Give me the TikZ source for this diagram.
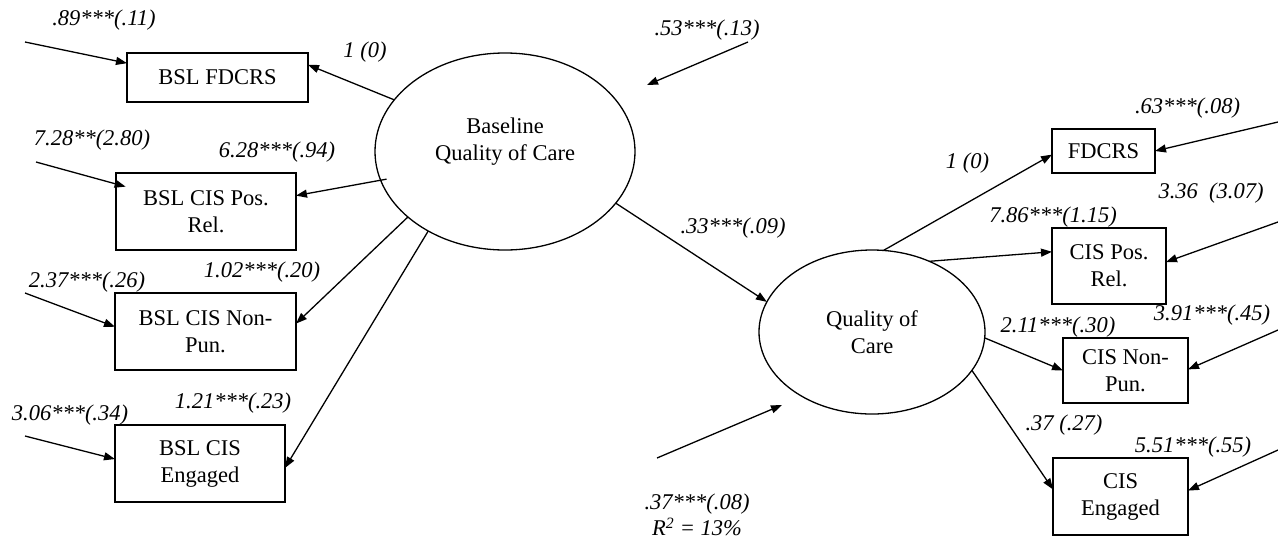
\documentclass[tikz,border=0pt]{standalone}
\usepackage{fontspec}
\setmainfont{Liberation Serif}
\usetikzlibrary{shapes.geometric,arrows.meta,calc}

\begin{document}
\begin{tikzpicture}[x=1pt,y=-1pt,
  every node/.style={font=\fontsize{22.5}{27}\selectfont},
  obs/.style={draw, rectangle, inner sep=0pt, outer sep=0pt, align=center, line width=1.3pt},
  latent/.style={draw, ellipse, inner sep=0pt, outer sep=0pt, align=center, line width=1.3pt},
  pth/.style={line width=1.3pt, -{Triangle[length=11pt,width=8pt]}},
  est/.style={font=\fontsize{22.5}{26}\selectfont\itshape, inner sep=0pt, align=center}
]
\useasboundingbox (0,0) rectangle (1278,539);

% latent variables
\node[latent, minimum width=260pt, minimum height=197pt] (base) at (505,151.5) {};
\node[align=center] (basetxt) at (505,142) {Baseline\\Quality of Care};
\node[latent, minimum width=226pt, minimum height=164pt] (qoc) at (872,332) {Quality of\\Care};

% baseline indicators
\node[obs, minimum width=181pt, minimum height=49pt] (bfd)  at (217.5,77.5) {BSL FDCRS};
\node[obs, minimum width=180pt, minimum height=77pt] (bpos) at (206,211.5) {BSL CIS Pos.\\Rel.};
\node[obs, minimum width=181pt, minimum height=77pt] (bnon) at (205.5,331.5) {BSL CIS Non-\\Pun.};
\node[obs, minimum width=170pt, minimum height=77pt] (beng) at (200,463.5) {BSL CIS\\Engaged};

% follow-up indicators
\node[obs, minimum width=103pt, minimum height=44pt] (fd)  at (1103.5,151) {FDCRS};
\node[obs, minimum width=114pt, minimum height=76pt] (pos) at (1109,266) {CIS Pos.\\Rel.};
\node[obs, minimum width=125pt, minimum height=65pt] (non) at (1125.5,370.5) {CIS Non-\\Pun.};
\node[obs, minimum width=135pt, minimum height=77pt] (eng) at (1120.5,496.5) {CIS\\Engaged};

% free ends of the residual arrows
\coordinate (e1) at (25,42);
\coordinate (e2) at (36,162);
\coordinate (e3) at (25,293);
\coordinate (e4) at (25,436);
\coordinate (zb) at (748,42);
\coordinate (zbt) at (647,85);
\coordinate (zq) at (657,458);
\coordinate (zqt) at (782,405);
\coordinate (r1) at (1278,122);
\coordinate (r2) at (1278,222);
\coordinate (r3) at (1278,330);
\coordinate (r4) at (1278,450);

% loadings of the baseline factor
\draw[pth] (base.155) -- (bfd.8.5);
\draw[pth, shorten <=-6pt] (base.193) -- (bpos.10.4);
\draw[pth] (base.214.4) -- (bnon.5.4);
\draw[pth] (base.226.3) -- (beng.357.6);

% structural path
\draw[pth] (base.335.2) -- (qoc.164);

% loadings of the follow-up factor
\draw[pth] (qoc.82.4) -- (fd.184.4);
\draw[pth] (qoc.51.7) -- (pos.166.2);
\draw[pth] (qoc.357) -- (non.west);
\draw[pth] (qoc.339.4) -- (eng.174.5);

% residuals
\draw[pth] (e1) -- (bfd.171);
\draw[pth, shorten >=-10pt] (e2) -- (bpos.163);
\draw[pth] (e3) -- (bnon.177.2);
\draw[pth] (e4) -- (beng.177);
\draw[pth] (zb) -- (zbt);
\draw[pth] (zq) -- (zqt);
\draw[pth] (r1) -- (fd.east);
\draw[pth] (r2) -- (pos.4);
\draw[pth] (r3) -- (non.1.4);
\draw[pth] (r4) -- (eng.5.4);

% estimates
\node[est] (l1) at (104,20) {.89***(.11)};
\node[est] (l2) at (365,52) {1 (0)};
\node[est] (l3) at (92,140) {7.28**(2.80)};
\node[est] (l4) at (277,152) {6.28***(.94)};
\node[est] (l5) at (87,282) {2.37***(.26)};
\node[est] (l6) at (262,272) {1.02***(.20)};
\node[est] (l7) at (70,415) {3.06***(.34)};
\node[est] (l8) at (233,403) {1.21***(.23)};
\node[est] (l9) at (707,30) {.53***(.13)};
\node[est] (l10) at (733,228) {.33***(.09)};
\node[est] (l11) at (967.5,163) {1 (0)};
\node[est] (l12) at (1053,217) {7.86***(1.15)};
\node[est] (l13) at (1187.5,108) {.63***(.08)};
\node[est] (l14) at (1211,193) {3.36\ \ (3.07)};
\node[est] (l15) at (1058,327) {2.11***(.30)};
\node[est] (l16) at (1212,315) {3.91***(.45)};
\node[est] (l17) at (1064,425) {.37 (.27)};
\node[est] (l18) at (1193,447) {5.51***(.55)};
\node[est] (l19) at (697,515) {.37***(.08)\\R\textsuperscript{2} = 13\%};
\end{tikzpicture}
\end{document}
